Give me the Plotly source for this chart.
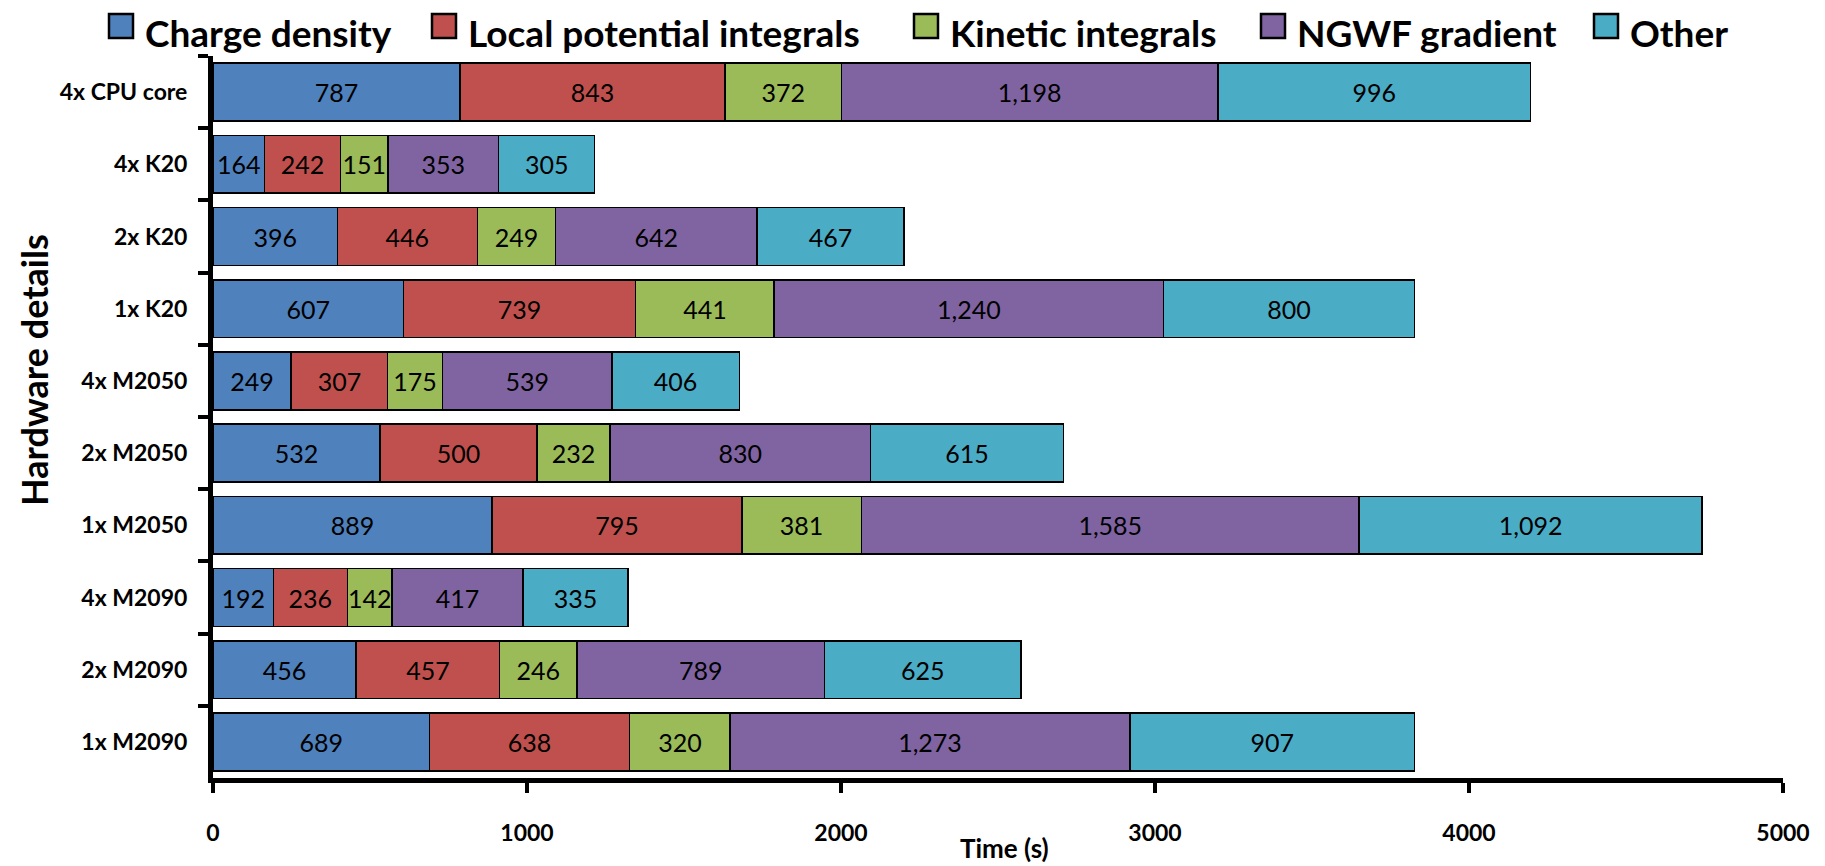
import plotly.graph_objects as go

categories = ["4x CPU core", "4x K20", "2x K20", "1x K20", "4x M2050", "2x M2050",
              "1x M2050", "4x M2090", "2x M2090", "1x M2090"]
series_names = ["Charge density", "Local potential integrals", "Kinetic integrals",
                "NGWF gradient", "Other"]
charge_density = [787, 164, 396, 607, 249, 532, 889, 192, 456, 689]
local_potential = [843, 242, 446, 739, 307, 500, 795, 236, 457, 638]
kinetic = [372, 151, 249, 441, 175, 232, 381, 142, 246, 320]
ngwf_gradient = [1198, 353, 642, 1240, 539, 830, 1585, 417, 789, 1273]
other = [996, 305, 467, 800, 406, 615, 1092, 335, 625, 907]
x_ticks = [0, 1000, 2000, 3000, 4000, 5000]

colors = ["#4F81BD", "#C0504D", "#9BBB59", "#8064A2", "#4BACC6"]
FONT = "Lato, Roboto, sans-serif"

W, H = 1825, 866
OFF = 8  # page body margin
L, T = 213 - OFF, 56 - OFF
PW, PH = 1570, 722
R, B = W - L - PW, H - T - PH


def px_x(v):
    return (v - OFF - L) / PW


def px_y(v):
    return 1 - (v - OFF - T) / PH


fig = go.Figure()
for name, vals, col in zip(series_names,
                           [charge_density, local_potential, kinetic, ngwf_gradient, other],
                           colors):
    fig.add_trace(go.Bar(
        y=categories, x=vals, name=name, orientation="h", showlegend=False,
        marker=dict(color=col, line=dict(color="black", width=1.5)),
        texttemplate="%{x:,}", textposition="inside", insidetextanchor="middle",
        constraintext="none", textangle=0,
        textfont=dict(family=FONT, size=25, color="black"),
    ))

# legend drawn as boxes + labels (Excel-style large square keys)
legend_box_left = [109, 432, 914, 1261, 1594]
shapes, annotations = [], []
for name, col, x0 in zip(series_names, colors, legend_box_left):
    shapes.append(dict(type="rect", xref="paper", yref="paper",
                       x0=px_x(x0), x1=px_x(x0 + 24), y0=px_y(38), y1=px_y(14),
                       fillcolor=col, line=dict(color="black", width=2.5)))
    annotations.append(dict(text=name, xref="paper", yref="paper",
                            x=px_x(x0 + 34), y=px_y(OFF), xanchor="left", yanchor="top",
                            showarrow=False,
                            font=dict(family=FONT, size=37, color="black", weight="bold")))

annotations += [
    dict(text="Hardware details", xref="paper", yref="paper",
         x=px_x(34), y=px_y(370), xanchor="center", yanchor="middle",
         textangle=-90, showarrow=False,
         font=dict(family=FONT, size=36, color="black", weight="bold")),
    dict(text="Time (s)", xref="paper", yref="paper",
         x=px_x(1004), y=px_y(848), xanchor="center", yanchor="middle",
         showarrow=False,
         font=dict(family=FONT, size=26, color="black", weight="bold")),
]

fig.update_layout(
    barmode="stack", bargap=0.2,
    width=W, height=H, showlegend=False,
    paper_bgcolor="white", plot_bgcolor="white",
    margin=dict(l=L, r=R, t=T, b=B, autoexpand=False),
    font=dict(family=FONT, color="black"),
    xaxis=dict(range=[0, 5000], tickvals=x_ticks, ticktext=[str(v) for v in x_ticks],
               showgrid=False, zeroline=False, showline=True, linecolor="black", linewidth=5,
               ticks="outside", ticklen=10, tickwidth=4, tickcolor="black",
               automargin=False, ticklabelstandoff=20,
               tickfont=dict(family=FONT, size=23, color="black", weight="bold")),
    yaxis=dict(categoryorder="array", categoryarray=categories, autorange="reversed",
               showgrid=False, showline=True, linecolor="black", linewidth=5,
               ticks="outside", ticklen=10, tickwidth=4, tickcolor="black", tickson="boundaries",
               automargin=False, ticklabelstandoff=16,
               tickfont=dict(family=FONT, size=23, color="black", weight="bold")),
    shapes=shapes,
    annotations=annotations,
)

fig.write_html("out.html")
